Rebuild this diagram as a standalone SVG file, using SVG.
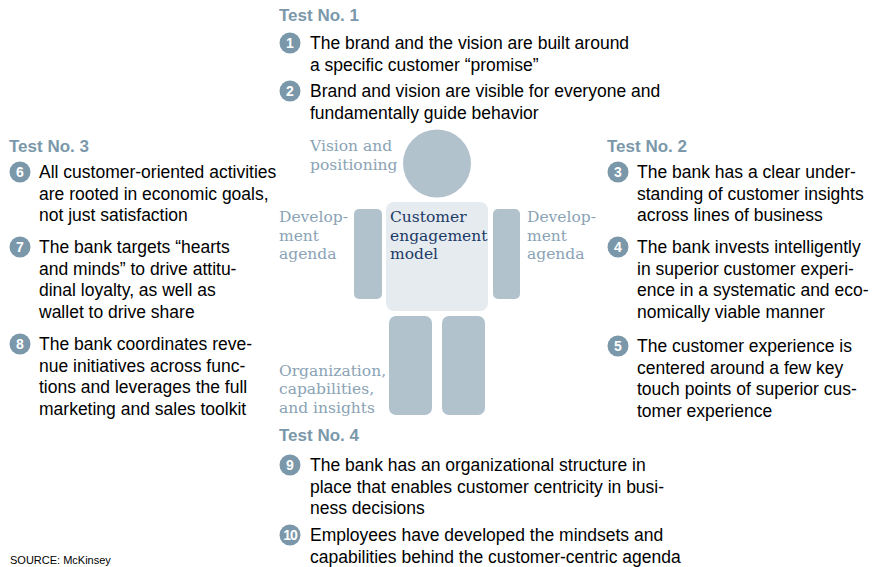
<svg xmlns="http://www.w3.org/2000/svg" width="872" height="567" viewBox="0 0 872 567">
<style>
.bg{fill:#ffffff}
.hd{font-family:"Liberation Sans",Arial,sans-serif;font-weight:bold;font-size:17px;fill:#7b98aa}
.tx{font-family:"Liberation Sans",Arial,sans-serif;font-size:17.5px;fill:#000000}
.num{fill:#7b98aa}
.nt{font-family:"Liberation Sans",Arial,sans-serif;font-weight:bold;font-size:14px;fill:#ffffff;text-anchor:middle}
.body{fill:#b1c2cd}
.torso{fill:#e6ebf0}
.lb{font-family:"DejaVu Serif",Georgia,serif;font-size:15.5px;fill:#8aa3b5}
.lbd{font-family:"DejaVu Serif",Georgia,serif;font-size:15.5px;fill:#1c3a66}
.src{font-family:"Liberation Sans",Arial,sans-serif;font-size:11px;fill:#000000}
</style>
<rect class="bg" x="0" y="0" width="872" height="567"/>

<g id="figure">
  <circle class="body" cx="437" cy="163.5" r="34"/>
  <rect class="torso" x="386" y="202" width="102" height="109" rx="8"/>
  <rect class="body" x="354" y="209" width="28" height="90" rx="5"/>
  <rect class="body" x="493" y="209" width="27" height="90" rx="5"/>
  <rect class="body" x="389" y="316" width="43" height="99" rx="7"/>
  <rect class="body" x="442" y="316" width="43" height="99" rx="7"/>
</g>
<g id="label-vision">
  <text class="lb" x="310" y="150.5"><tspan x="310">Vision and</tspan><tspan x="310" dy="19">positioning</tspan></text>
</g>
<g id="label-dev-left">
  <text class="lb" x="279" y="222"><tspan x="279">Develop-</tspan><tspan x="279" dy="18.5">ment</tspan><tspan x="279" dy="18.5">agenda</tspan></text>
</g>
<g id="label-model">
  <text class="lbd" x="390" y="222"><tspan x="390">Customer</tspan><tspan x="390" dy="18.5">engagement</tspan><tspan x="390" dy="18.5">model</tspan></text>
</g>
<g id="label-dev-right">
  <text class="lb" x="527" y="222"><tspan x="527">Develop-</tspan><tspan x="527" dy="18.5">ment</tspan><tspan x="527" dy="18.5">agenda</tspan></text>
</g>
<g id="label-org">
  <text class="lb" x="279" y="375.5"><tspan x="279">Organization,</tspan><tspan x="279" dy="18.5">capabilities,</tspan><tspan x="279" dy="18.5">and insights</tspan></text>
</g>

<g id="connectors"></g>

<g id="test1">
  <text class="hd" x="279" y="21">Test No. 1</text>
</g>
<g id="item1">
  <circle class="num" cx="290" cy="43" r="10.5"/><text class="nt" x="290" y="48">1</text>
  <text class="tx" x="310" y="49"><tspan x="310">The brand and the vision are built around</tspan><tspan x="310" dy="21.5">a specific customer “promise”</tspan></text>
</g>
<g id="item2">
  <circle class="num" cx="290" cy="91" r="10.5"/><text class="nt" x="290" y="96">2</text>
  <text class="tx" x="310" y="97"><tspan x="310">Brand and vision are visible for everyone and</tspan><tspan x="310" dy="21.5">fundamentally guide behavior</tspan></text>
</g>

<g id="test3">
  <text class="hd" x="9" y="152">Test No. 3</text>
</g>
<g id="item6">
  <circle class="num" cx="20" cy="172" r="10.5"/><text class="nt" x="20" y="177">6</text>
  <text class="tx" x="39" y="178"><tspan x="39">All customer-oriented activities</tspan><tspan x="39" dy="21.5">are rooted in economic goals,</tspan><tspan x="39" dy="21.5">not just satisfaction</tspan></text>
</g>
<g id="item7">
  <circle class="num" cx="20" cy="247" r="10.5"/><text class="nt" x="20" y="252">7</text>
  <text class="tx" x="39" y="253"><tspan x="39">The bank targets “hearts</tspan><tspan x="39" dy="21.5">and minds” to drive attitu-</tspan><tspan x="39" dy="21.5">dinal loyalty, as well as</tspan><tspan x="39" dy="21.5">wallet to drive share</tspan></text>
</g>
<g id="item8">
  <circle class="num" cx="20" cy="344" r="10.5"/><text class="nt" x="20" y="349">8</text>
  <text class="tx" x="39" y="350"><tspan x="39">The bank coordinates reve-</tspan><tspan x="39" dy="21.5">nue initiatives across func-</tspan><tspan x="39" dy="21.5">tions and leverages the full</tspan><tspan x="39" dy="21.5">marketing and sales toolkit</tspan></text>
</g>

<g id="test2">
  <text class="hd" x="607" y="152">Test No. 2</text>
</g>
<g id="item3">
  <circle class="num" cx="618" cy="172" r="10.5"/><text class="nt" x="618" y="177">3</text>
  <text class="tx" x="637" y="178"><tspan x="637">The bank has a clear under-</tspan><tspan x="637" dy="21.5">standing of customer insights</tspan><tspan x="637" dy="21.5">across lines of business</tspan></text>
</g>
<g id="item4">
  <circle class="num" cx="618" cy="247" r="10.5"/><text class="nt" x="618" y="252">4</text>
  <text class="tx" x="637" y="253"><tspan x="637">The bank invests intelligently</tspan><tspan x="637" dy="21.5">in superior customer experi-</tspan><tspan x="637" dy="21.5">ence in a systematic and eco-</tspan><tspan x="637" dy="21.5">nomically viable manner</tspan></text>
</g>
<g id="item5">
  <circle class="num" cx="618" cy="346" r="10.5"/><text class="nt" x="618" y="351">5</text>
  <text class="tx" x="637" y="352"><tspan x="637">The customer experience is</tspan><tspan x="637" dy="21.5">centered around a few key</tspan><tspan x="637" dy="21.5">touch points of superior cus-</tspan><tspan x="637" dy="21.5">tomer experience</tspan></text>
</g>

<g id="test4">
  <text class="hd" x="279" y="441">Test No. 4</text>
</g>
<g id="item9">
  <circle class="num" cx="290" cy="465" r="10.5"/><text class="nt" x="290" y="470">9</text>
  <text class="tx" x="310" y="471"><tspan x="310">The bank has an organizational structure in</tspan><tspan x="310" dy="21.5">place that enables customer centricity in busi-</tspan><tspan x="310" dy="21.5">ness decisions</tspan></text>
</g>
<g id="item10">
  <circle class="num" cx="290" cy="535" r="10.5"/><text class="nt" x="290" y="540" style="letter-spacing:-1px">10</text>
  <text class="tx" x="310" y="541"><tspan x="310">Employees have developed the mindsets and</tspan><tspan x="310" dy="21.5">capabilities behind the customer-centric agenda</tspan></text>
</g>

<g id="source">
  <text class="src" x="10" y="564">SOURCE: McKinsey</text>
</g>
</svg>
